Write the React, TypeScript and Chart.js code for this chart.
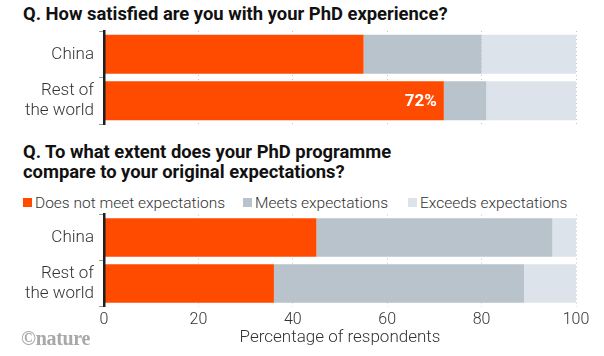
import { useEffect, useRef } from "react";
import { Chart, registerables } from "chart.js";

Chart.register(...registerables);

// ---- Data ----
const categories: string[][] = [["China"], ["Rest of", "the world"]];

// Q1: How satisfied are you with your PhD experience?
const satisfactionSeries = ["Satisfied", "Neutral", "Dissatisfied"];
const satisfiedValues = [55, 72];
const neutralValues = [25, 9];
const dissatisfiedValues = [20, 19];

// Q2: Compared with original expectations
const expectationSeries = ["Does not meet expectations", "Meets expectations", "Exceeds expectations"];
const doesNotMeetValues = [45, 36];
const meetsValues = [50, 53];
const exceedsValues = [5, 11];

const xTicks = [0, 20, 40, 60, 80, 100];

// ---- Styles ----
const ORANGE = "#FF4B00";
const GRAY = "#B9C3CC";
const LIGHT = "#DCE3EB";
const FONT = "Roboto, 'Noto Sans', sans-serif";
const TEXT = "#333333";

const valueLabelPlugin = {
  id: "valueLabel",
  afterDatasetsDraw(chart: any, _args: any, opts: any) {
    if (!opts || opts.index == null) return;
    const meta = chart.getDatasetMeta(0);
    const el = meta.data[opts.index];
    const v = chart.data.datasets[0].data[opts.index];
    if (!el) return;
    const ctx = chart.ctx;
    ctx.save();
    ctx.fillStyle = "#ffffff";
    ctx.font = `700 17px ${FONT}`;
    ctx.textAlign = "right";
    ctx.textBaseline = "middle";
    ctx.fillText(`${v}%`, el.x - 7, el.y + 1);
    ctx.restore();
  },
};

function buildConfig(
  seriesNames: string[],
  series: number[][],
  showXAxis: boolean,
  xAxisHeight: number,
  labelIndex: number | null,
  padding: { top: number; bottom: number }
): any {
  const colors = [ORANGE, GRAY, LIGHT];
  return {
    type: "bar",
    data: {
      labels: categories,
      datasets: series.map((d, i) => ({
        label: seriesNames[i],
        data: d,
        backgroundColor: colors[i],
        borderWidth: 0,
        categoryPercentage: 1,
        barPercentage: 0.84,
      })),
    },
    options: {
      indexAxis: "y",
      animation: false,
      responsive: false,
      layout: { padding: { left: 0, right: 28, top: padding.top, bottom: padding.bottom } },
      plugins: {
        legend: { display: false },
        tooltip: { enabled: false },
        valueLabel: { index: labelIndex },
      },
      scales: {
        x: {
          stacked: true,
          min: 0,
          max: 100,
          afterBuildTicks: (s: any) => {
            s.ticks = xTicks.map((v) => ({ value: v }));
          },
          afterFit: (s: any) => {
            s.height = xAxisHeight;
            s.paddingLeft = 0;
            s.paddingRight = 0;
          },
          grid: { color: "#c4c4c4", lineWidth: 1, drawTicks: false },
          border: { display: false, dash: [1, 3] },
          ticks: {
            display: showXAxis,
            padding: 4,
            color: TEXT,
            font: { family: FONT, size: 16, weight: "300" },
          },
          title: {
            display: showXAxis,
            text: "Percentage of respondents",
            color: TEXT,
            font: { family: FONT, size: 17, weight: "300" },
            padding: { top: 0, bottom: 8 },
          },
        },
        y: {
          stacked: true,
          afterFit: (s: any) => {
            s.width = 104;
            s.paddingTop = 0;
            s.paddingBottom = 0;
          },
          grid: { drawOnChartArea: false, drawTicks: true, tickLength: 5, tickColor: "#9a9a9a" },
          border: { display: true, color: "#1f1f1f", width: 2.5, z: 1 },
          ticks: {
            autoSkip: false,
            padding: 5,
            color: TEXT,
            font: { family: FONT, size: 17, weight: "300", lineHeight: 1.15 },
          },
        },
      },
    },
    plugins: [valueLabelPlugin],
  };
}

function BarChart(props: {
  seriesNames: string[];
  series: number[][];
  showXAxis: boolean;
  xAxisHeight: number;
  labelIndex: number | null;
  top: number;
  height: number;
  padding: { top: number; bottom: number };
}) {
  const ref = useRef<HTMLCanvasElement | null>(null);
  useEffect(() => {
    if (!ref.current) return;
    const chart = new Chart(
      ref.current,
      buildConfig(
        props.seriesNames,
        props.series,
        props.showXAxis,
        props.xAxisHeight,
        props.labelIndex,
        props.padding
      )
    );
    return () => chart.destroy();
  }, []);
  return (
    <canvas
      ref={ref}
      width={604}
      height={props.height}
      style={{ position: "absolute", left: 0, top: props.top, width: 604, height: props.height }}
    />
  );
}

const legendColors = [ORANGE, GRAY, LIGHT];
const legendX = [23, 243, 408];

const titleStyle: any = {
  position: "absolute",
  left: 23,
  fontSize: 18.4,
  fontWeight: 700,
  whiteSpace: "nowrap",
  color: "#111",
};

export default function App() {
  return (
    <div
      style={{
        position: "fixed",
        left: 0,
        top: 0,
        width: 604,
        height: 356,
        background: "#fff",
        overflow: "hidden",
        fontFamily: FONT,
      }}
    >
      <div style={{ ...titleStyle, top: 3, lineHeight: "22px" }}>
        Q. How satisfied are you with your PhD experience?
      </div>
      <BarChart
        seriesNames={satisfactionSeries}
        series={[satisfiedValues, neutralValues, dissatisfiedValues]}
        showXAxis={false}
        xAxisHeight={0}
        labelIndex={1}
        top={24}
        height={108}
        padding={{ top: 7, bottom: 8 }}
      />
      <div style={{ ...titleStyle, top: 142, lineHeight: "20px" }}>
        Q. To what extent does your PhD programme
        <br />
        compare to your original expectations?
      </div>
      {expectationSeries.map((name, i) => (
        <div
          key={name}
          style={{
            position: "absolute",
            left: legendX[i],
            top: 192,
            height: 21,
            display: "flex",
            alignItems: "center",
            whiteSpace: "nowrap",
            fontSize: 15.5,
            fontWeight: 300,
            color: TEXT,
          }}
        >
          <span style={{ display: "inline-block", width: 9, height: 9, background: legendColors[i], marginRight: 3 }} />
          {name}
        </div>
      ))}
      <BarChart
        seriesNames={expectationSeries}
        series={[doesNotMeetValues, meetsValues, exceedsValues]}
        showXAxis={true}
        xAxisHeight={49.5}
        labelIndex={null}
        top={208}
        height={148}
        padding={{ top: 6.5, bottom: 0 }}
      />
      <div
        style={{
          position: "absolute",
          left: 21,
          top: 327,
          fontSize: 20,
          fontWeight: 700,
          lineHeight: "22px",
          color: "#a8a8a8",
          fontFamily: "'Liberation Serif', 'DejaVu Serif', serif",
          letterSpacing: -0.3,
        }}
      >
        ©nature
      </div>
    </div>
  );
}
